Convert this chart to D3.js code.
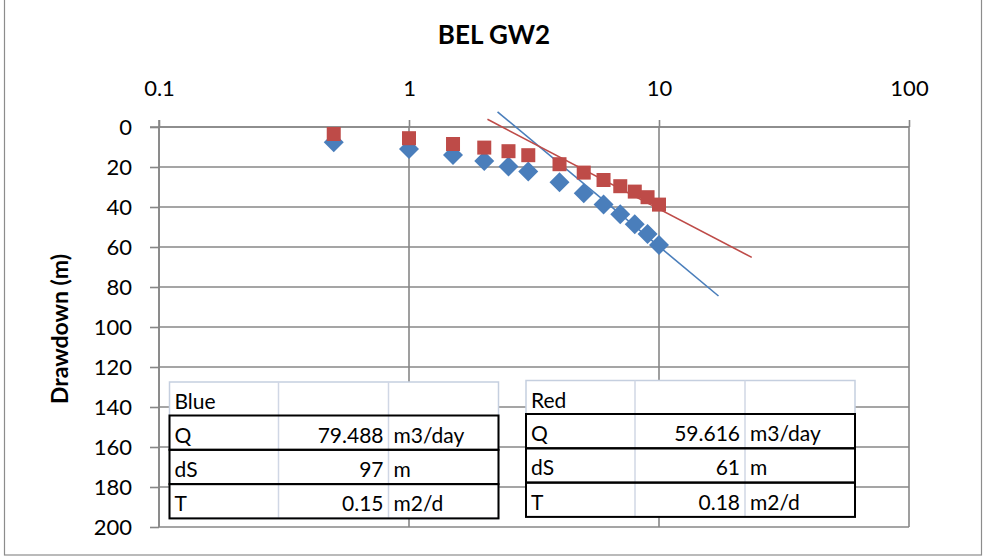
<!DOCTYPE html>
<html>
<head>
<meta charset="utf-8">
<script src="https://cdn.jsdelivr.net/npm/d3@7"></script>
<style>
  html, body { margin: 0; padding: 0; background: #fff; }
  svg { display: block; }
  text { font-family: Lato, "Open Sans", sans-serif; fill: #000; }
</style>
</head>
<body>
<svg id="chart" width="986" height="556"></svg>
<script>
// Pumping test, time (min, log scale) vs drawdown (m)
const chartTitle = "BEL GW2";
const yTitle = "Drawdown (m)";

const xTicks = [0.1, 1, 10, 100];
const xTickLabels = ["0.1", "1", "10", "100"];
const yTicks = [0, 20, 40, 60, 80, 100, 120, 140, 160, 180, 200];

const times = [0.5, 1, 1.5, 2, 2.5, 3, 4, 5, 6, 7, 8, 9, 10];
const blueDrawdown = [7.6, 11, 14, 17, 19.8, 22.3, 27.6, 33.1, 38.8, 43.6, 48.6, 53.5, 59];
const redDrawdown  = [3.5, 5.6, 8.5, 10.3, 12.1, 14.1, 18.6, 22.8, 26.5, 29.6, 32.3, 35.1, 38.8];

// straight-line fits (endpoints: time, drawdown)
const blueFitTime = [2.26, 17.3];
const blueFitDrawdown = [-7.6, 84.5];
const redFitTime = [2.06, 23.5];
const redFitDrawdown = [-3.85, 65.2];

// parameter tables
const blueTableTitle = "Blue";
const blueParams = [["Q", "79.488", "m3/day"], ["dS", "97", "m"], ["T", "0.15", "m2/d"]];
const redTableTitle = "Red";
const redParams = [["Q", "59.616", "m3/day"], ["dS", "61", "m"], ["T", "0.18", "m2/d"]];

const BLUE = "#4a7ebb";
const RED = "#be4b48";
const GRID = "#878787";

const svg = d3.select("#chart");

// outer chart border
svg.append("rect")
  .attr("x", 4.5).attr("y", -1.5).attr("width", 977).attr("height", 556.5)
  .attr("fill", "none").attr("stroke", "#8c8c8c").attr("stroke-width", 1.2);

const x = d3.scaleLog().domain([0.1, 100]).range([159, 909]);
const y = d3.scaleLinear().domain([0, 200]).range([127, 527]);

// gridlines
const grid = svg.append("g");
grid.selectAll("line.h").data(yTicks).join("line")
  .attr("x1", x(0.1)).attr("x2", x(100))
  .attr("y1", d => y(d)).attr("y2", d => y(d))
  .attr("stroke", GRID).attr("stroke-width", 1.6);
grid.selectAll("line.v").data(xTicks).join("line")
  .attr("x1", d => x(d)).attr("x2", d => x(d))
  .attr("y1", y(0)).attr("y2", y(200))
  .attr("stroke", GRID).attr("stroke-width", 1.6);

// axes
const xAxis = d3.axisTop(x).tickValues(xTicks)
  .tickFormat((d, i) => xTickLabels[i]).tickSize(7).tickPadding(24);
const gx = svg.append("g").attr("transform", `translate(0,${y(0)})`).call(xAxis);
const yAxis = d3.axisLeft(y).tickValues(yTicks).tickSize(9).tickPadding(18);
const gy = svg.append("g").attr("transform", `translate(${x(0.1)},0)`).call(yAxis);

[gx, gy].forEach(g => {
  g.select(".domain").attr("stroke", GRID).attr("stroke-width", 1.6);
  g.selectAll(".tick line").attr("stroke", GRID).attr("stroke-width", 1.6);
  g.selectAll(".tick text").style("font-family", "Lato, sans-serif")
    .style("font-size", "22px").attr("fill", "#000");
});
gy.select(".domain").attr("d", `M0,${y(0) - 7}V${y(200)}`);
gx.select(".domain").attr("d", `M${x(0.1) - 9},0H${x(100)}`);

// titles
svg.append("text").attr("x", 494).attr("y", 44).attr("text-anchor", "middle")
  .style("font-size", "26px").style("font-weight", "bold").text(chartTitle);
svg.append("text")
  .attr("transform", `translate(68,${(y(0) + y(200)) / 2 + 2}) rotate(-90)`)
  .attr("text-anchor", "middle")
  .style("font-size", "23px").style("font-weight", "bold").text(yTitle);

// fitted lines
const line = d3.line().x(d => x(d[0])).y(d => y(d[1]));
svg.append("path").datum(d3.zip(blueFitTime, blueFitDrawdown))
  .attr("d", line).attr("fill", "none").attr("stroke", BLUE).attr("stroke-width", 1.6);
svg.append("path").datum(d3.zip(redFitTime, redFitDrawdown))
  .attr("d", line).attr("fill", "none").attr("stroke", RED).attr("stroke-width", 1.6);

// markers
const diamond = d3.symbol().type(d3.symbolSquare).size(200);
svg.append("g").selectAll("path").data(d3.zip(times, blueDrawdown)).join("path")
  .attr("d", diamond)
  .attr("transform", d => `translate(${x(d[0])},${y(d[1])}) rotate(45)`)
  .attr("fill", BLUE);
svg.append("g").selectAll("rect").data(d3.zip(times, redDrawdown)).join("rect")
  .attr("x", d => x(d[0]) - 7).attr("y", d => y(d[1]) - 7)
  .attr("width", 14).attr("height", 14)
  .attr("fill", RED);

// parameter tables
function drawTable(left, top, title, rows) {
  const colW = [109, 110, 110];
  const headH = 33.5;
  const rowH = 34.3;
  const width = d3.sum(colW);
  const g = svg.append("g");
  const totalH = headH + rowH * rows.length;
  g.append("rect").attr("x", left).attr("y", top).attr("width", width).attr("height", totalH)
    .attr("fill", "#fff").attr("stroke", "#c5cfdf").attr("stroke-width", 1.5);
  let cx = left;
  colW.slice(0, -1).forEach(w => {
    cx += w;
    g.append("line").attr("x1", cx).attr("x2", cx).attr("y1", top).attr("y2", top + totalH)
      .attr("stroke", "#d0d7e5").attr("stroke-width", 1.5);
  });
  g.append("text").attr("x", left + 5).attr("y", top + 27)
    .style("font-size", "21px").text(title);
  rows.forEach((r, i) => {
    const ty = top + headH + i * rowH;
    g.append("rect").attr("x", left).attr("y", ty).attr("width", width).attr("height", rowH)
      .attr("fill", "none").attr("stroke", "#000").attr("stroke-width", 2);
    g.append("text").attr("x", left + 5).attr("y", ty + 27).style("font-size", "21px").text(r[0]);
    g.append("text").attr("x", left + colW[0] + colW[1] - 5).attr("y", ty + 27)
      .attr("text-anchor", "end").style("font-size", "21px").text(r[1]);
    g.append("text").attr("x", left + colW[0] + colW[1] + 5).attr("y", ty + 27)
      .style("font-size", "21px").text(r[2]);
  });
}
drawTable(169.5, 382, blueTableTitle, blueParams);
drawTable(526, 380.5, redTableTitle, redParams);
</script>
</body>
</html>
